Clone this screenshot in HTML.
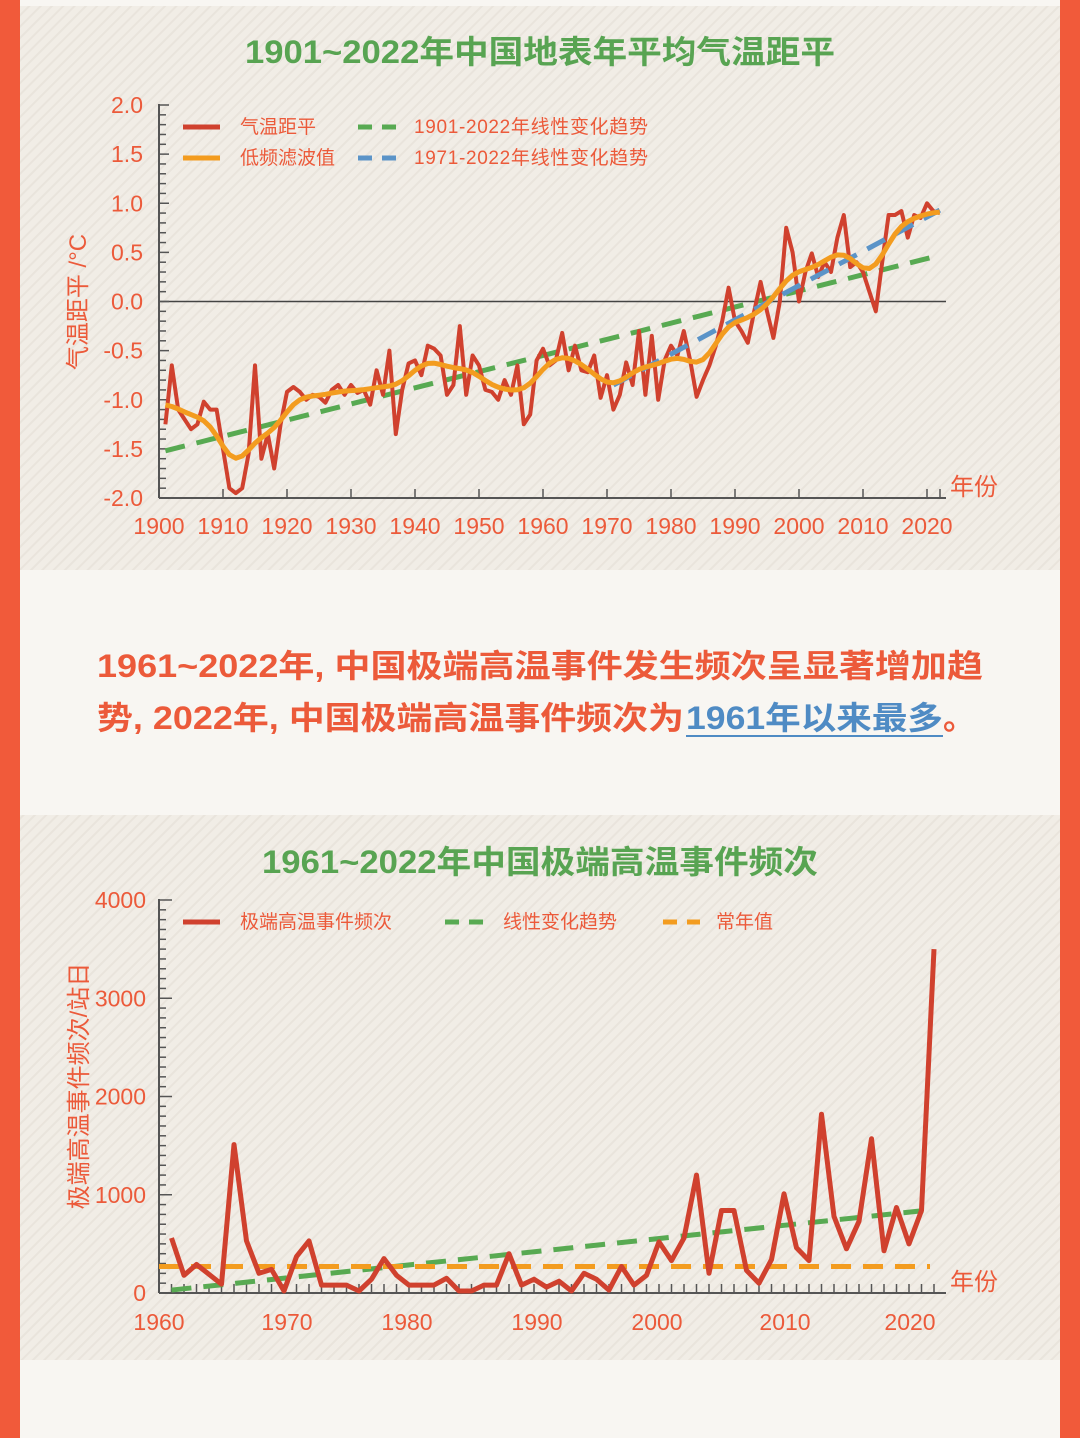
<!DOCTYPE html>
<html><head><meta charset="utf-8">
<style>
html,body{margin:0;padding:0;width:1080px;height:1438px;overflow:hidden;background:#f8f6f2}
svg{display:block}
text{font-family:"Liberation Sans","Noto Sans CJK SC",sans-serif}
</style></head><body>
<svg id="s" width="1080" height="1438" viewBox="0 0 1080 1438" xmlns="http://www.w3.org/2000/svg">
<defs>
<pattern id="st" width="8" height="8" patternUnits="userSpaceOnUse" patternTransform="rotate(45)">
<rect width="8" height="8" fill="#f1ede6"/><rect width="2" height="8" fill="#e9e4dc"/>
</pattern>
</defs>
<rect width="1080" height="1438" fill="#f8f6f2"/>
<rect x="20" y="6" width="1040" height="564" fill="url(#st)"/>
<rect x="20" y="815" width="1040" height="545" fill="url(#st)"/>
<rect x="0" y="0" width="20" height="1438" fill="#f15a3a"/>
<rect x="1060" y="0" width="20" height="1438" fill="#f15a3a"/>

<text x="245" y="63" font-size="32" font-weight="bold" fill="#58a452" textLength="590" lengthAdjust="spacingAndGlyphs">1901~2022年中国地表年平均气温距平</text>
<text x="262" y="873" font-size="32" font-weight="bold" fill="#58a452" textLength="556" lengthAdjust="spacingAndGlyphs">1961~2022年中国极端高温事件频次</text>

<text x="97" y="677" font-size="32" font-weight="bold" fill="#ec5a3a" textLength="886" lengthAdjust="spacingAndGlyphs">1961~2022年, 中国极端高温事件发生频次呈显著增加趋</text>
<text x="97" y="729" font-size="32" font-weight="bold" fill="#ec5a3a" textLength="587" lengthAdjust="spacingAndGlyphs">势, 2022年, 中国极端高温事件频次为</text>
<text x="686" y="729" font-size="32" font-weight="bold" fill="#4f8bc4" textLength="257" lengthAdjust="spacingAndGlyphs">1961年以来最多</text>
<text x="943" y="729" font-size="32" font-weight="bold" fill="#ec5a3a">。</text>
<rect x="686" y="735" width="257" height="2" fill="#4f8bc4"/>

<g id="c1"></g>
<g id="c2"></g>
</svg>
<script>
var NS="http://www.w3.org/2000/svg";
function el(p,t,a,txt){var e=document.createElementNS(NS,t);for(var k in a)e.setAttribute(k,a[k]);if(txt!=null)e.textContent=txt;p.appendChild(e);return e;}
var lab="#ec5a3a",ax="#555";
var g=document.getElementById('c1');
function X1(y){return 159+6.4*(y-1900);} function Y1(v){return 301.5-98.25*v;}
el(g,'line',{x1:159,y1:301.5,x2:946,y2:301.5,stroke:"#444","stroke-width":1.5});
el(g,'line',{x1:159,y1:104,x2:159,y2:498,stroke:ax,"stroke-width":2});
el(g,'line',{x1:159,y1:498,x2:946,y2:498,stroke:ax,"stroke-width":2});
for(var i=0;i<=40;i++){var y=105+i*9.825;el(g,'line',{x1:159,y1:y,x2:i%5==0?169:166,y2:y,stroke:ax,"stroke-width":1.5});}
for(var i=0;i<=8;i++){var v=2-i*0.5;el(g,'text',{x:143,y:Y1(v)+8,"text-anchor":"end","font-size":23,fill:lab},v.toFixed(1));}
for(var yr=1900;yr<=2020;yr+=10){el(g,'line',{x1:X1(yr),y1:498,x2:X1(yr),y2:489,stroke:ax,"stroke-width":1.5});el(g,'text',{x:X1(yr),y:534,"text-anchor":"middle","font-size":23,fill:lab},yr);}
el(g,'line',{x1:940,y1:498,x2:940,y2:489,stroke:ax,"stroke-width":1.5});
el(g,'text',{x:950,y:495,"font-size":24,fill:lab},"年份");
el(g,'text',{x:0,y:0,"font-size":24,fill:lab,"text-anchor":"middle",transform:"translate(86,302) rotate(-90)"},"气温距平 /°C");
var t=[-1.25,-0.65,-1.1,-1.2,-1.3,-1.25,-1.02,-1.1,-1.1,-1.5,-1.9,-1.95,-1.9,-1.55,-0.65,-1.6,-1.35,-1.7,-1.25,-0.92,-0.87,-0.92,-1.0,-0.95,-0.97,-1.03,-0.9,-0.85,-0.95,-0.85,-0.93,-0.9,-1.05,-0.7,-0.95,-0.5,-1.35,-0.9,-0.63,-0.6,-0.75,-0.45,-0.48,-0.55,-0.95,-0.85,-0.25,-0.95,-0.55,-0.65,-0.9,-0.92,-1.0,-0.8,-0.95,-0.65,-1.25,-1.15,-0.6,-0.48,-0.65,-0.6,-0.32,-0.7,-0.45,-0.7,-0.72,-0.55,-0.98,-0.75,-1.1,-0.95,-0.62,-0.85,-0.3,-0.95,-0.35,-1.0];
t=t.concat([-0.6,-0.45,-0.55,-0.3,-0.6,-0.97,-0.8,-0.65,-0.45,-0.2,0.14,-0.2,-0.3,-0.42,-0.1,0.2,-0.1,-0.37,0.0,0.75,0.5,0.0,0.3,0.49,0.25,0.4,0.3,0.65,0.88,0.35,0.4,0.3,0.1,-0.1,0.4,0.88,0.88,0.92,0.65,0.88,0.85,1.0,0.92,0.9]);
t=t.slice(0,122);
function pts(a,fx,fy,y0){return a.map(function(v,i){return fx(y0+i).toFixed(1)+","+fy(v).toFixed(1);}).join(" ");}
var sm=[];for(var i=0;i<t.length;i++){var s=0,w=0;for(var j=-7;j<=7;j++){var k=i+j;if(k<0||k>=t.length)continue;var ww=Math.exp(-j*j/(2*2.3*2.3));s+=t[k]*ww;w+=ww;}sm.push(s/w);}
el(g,'line',{x1:X1(1901),y1:Y1(-1.52),x2:X1(2022),y2:Y1(0.47),stroke:"#58aa52","stroke-width":5,"stroke-dasharray":"20,12"});
el(g,'polyline',{points:pts(t,X1,Y1,1901),fill:"none",stroke:"#d0412e","stroke-width":4,"stroke-linejoin":"round"});
el(g,'line',{x1:X1(1971),y1:Y1(-0.85),x2:X1(2022),y2:Y1(0.93),stroke:"#5b94c8","stroke-width":5,"stroke-dasharray":"20,12"});
el(g,'polyline',{points:pts(sm,X1,Y1,1901),fill:"none",stroke:"#f39c1f","stroke-width":5,"stroke-linejoin":"round"});
el(g,'line',{x1:183,y1:127,x2:220,y2:127,stroke:"#d0412e","stroke-width":5});
el(g,'line',{x1:183,y1:158,x2:220,y2:158,stroke:"#f39c1f","stroke-width":5});
el(g,'text',{x:240,y:133,"font-size":19,fill:lab},"气温距平");
el(g,'text',{x:240,y:164,"font-size":19,fill:lab},"低频滤波值");
el(g,'line',{x1:358,y1:127,x2:398,y2:127,stroke:"#58aa52","stroke-width":5,"stroke-dasharray":"14,10"});
el(g,'line',{x1:358,y1:158,x2:398,y2:158,stroke:"#5b94c8","stroke-width":5,"stroke-dasharray":"14,10"});
el(g,'text',{x:414,y:133,"font-size":19,fill:lab,textLength:234},"1901-2022年线性变化趋势");
el(g,'text',{x:414,y:164,"font-size":19,fill:lab,textLength:234},"1971-2022年线性变化趋势");
var h=document.getElementById('c2');
function X2(y){return 159+12.5*(y-1960);} function Y2(v){return 1293-0.09825*v;}
el(h,'line',{x1:159,y1:899,x2:159,y2:1293,stroke:ax,"stroke-width":2});
el(h,'line',{x1:159,y1:1293,x2:946,y2:1293,stroke:ax,"stroke-width":2});
for(var i=0;i<=40;i++){var y=900+i*9.825;el(h,'line',{x1:159,y1:y,x2:i%10==0?172:166,y2:y,stroke:ax,"stroke-width":1.5});}
[0,1000,2000,3000,4000].forEach(function(v){el(h,'text',{x:146,y:Y2(v)+8,"text-anchor":"end","font-size":23,fill:lab},v);});
for(var yr=1960;yr<=2022;yr++){el(h,'line',{x1:X2(yr),y1:1293,x2:X2(yr),y2:1284,stroke:ax,"stroke-width":1.5});}
[[1960,159],[1970,287],[1980,407],[1990,537],[2000,657],[2010,785],[2020,910]].forEach(function(p){el(h,'text',{x:p[1],y:1330,"text-anchor":"middle","font-size":23,fill:lab},p[0]);});
el(h,'text',{x:950,y:1290,"font-size":24,fill:lab},"年份");
el(h,'text',{x:0,y:0,"font-size":24,fill:lab,"text-anchor":"middle",transform:"translate(87,1086) rotate(-90)"},"极端高温事件频次/站日");
var d=[560,180,290,190,90,1510,530,200,240,20,370,530,80,80,80,20,140,350,180,80,80,80,150,20,20,80,80,400,80,140,60,120,20,200,140,30,270,80,180,520,330,560,1200,200,840,840,230,100,340,1010,460,330,1820,780,450,730,1570,430,870,500,840,3500];
el(h,'line',{x1:X2(1961),y1:Y2(30),x2:X2(2022),y2:Y2(850),stroke:"#58aa52","stroke-width":5,"stroke-dasharray":"20,12"});
el(h,'line',{x1:159,y1:Y2(270),x2:930,y2:Y2(270),stroke:"#f39c1f","stroke-width":5,"stroke-dasharray":"20,12"});
el(h,'polyline',{points:pts(d,X2,Y2,1961),fill:"none",stroke:"#d0412e","stroke-width":5,"stroke-linejoin":"round"});
el(h,'line',{x1:183,y1:922,x2:220,y2:922,stroke:"#d0412e","stroke-width":5});
el(h,'text',{x:240,y:928,"font-size":19,fill:lab},"极端高温事件频次");
el(h,'line',{x1:445,y1:922,x2:485,y2:922,stroke:"#58aa52","stroke-width":5,"stroke-dasharray":"14,10"});
el(h,'text',{x:503,y:928,"font-size":19,fill:lab},"线性变化趋势");
el(h,'line',{x1:663,y1:922,x2:700,y2:922,stroke:"#f39c1f","stroke-width":5,"stroke-dasharray":"14,10"});
el(h,'text',{x:716,y:928,"font-size":19,fill:lab},"常年值");
</script>
</body></html>
